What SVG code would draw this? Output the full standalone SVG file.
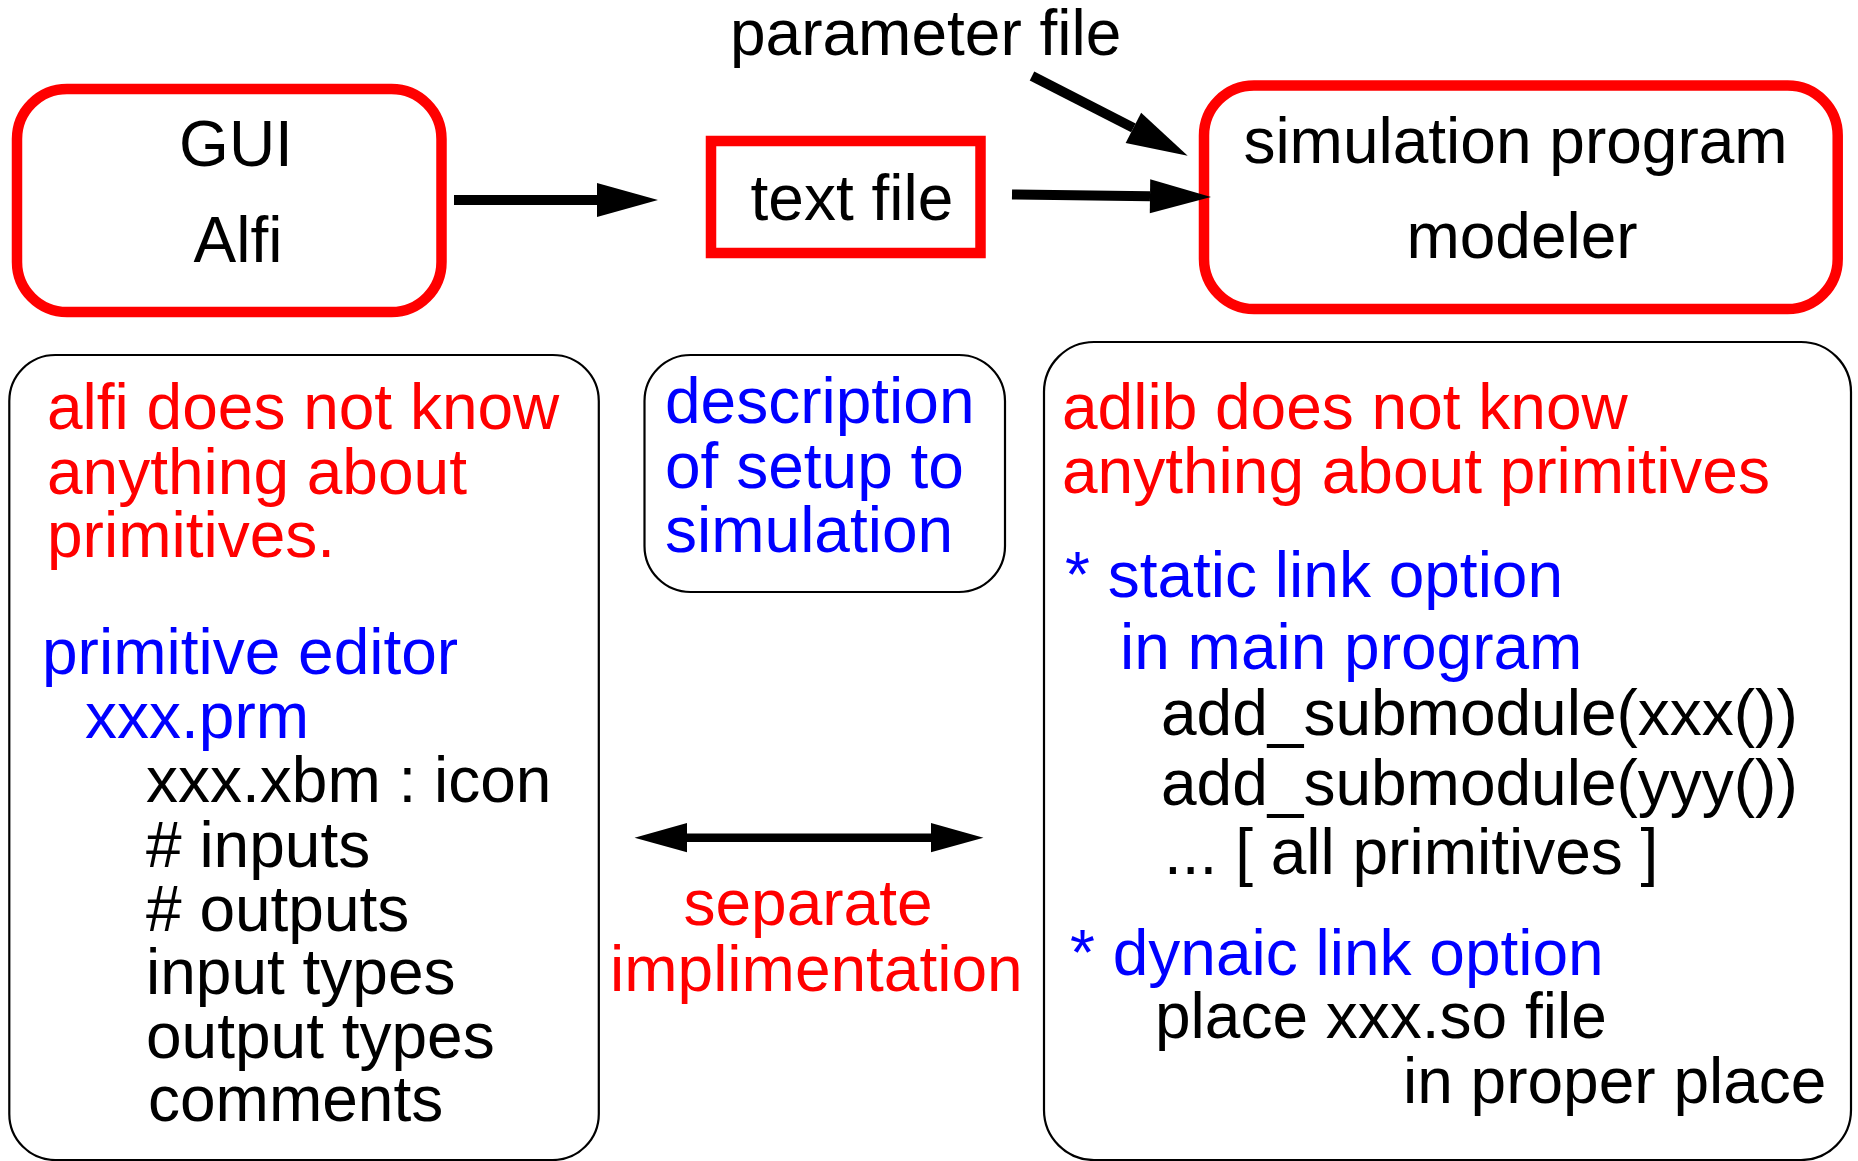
<svg xmlns="http://www.w3.org/2000/svg" width="1858" height="1161" viewBox="0 0 1858 1161">
  <defs>
    <style>
      text { font-family: "Liberation Sans", Arial, Helvetica, sans-serif; font-size: 64px; }
      .blk { fill: #000000; }
      .red { fill: #ff0000; }
      .blu { fill: #0000ff; }
      .mid { text-anchor: middle; }
      .redbox { fill: #ffffff; stroke: #ff0000; stroke-width: 10.5; }
      .note { fill: #ffffff; stroke: #000000; stroke-width: 2.2; }
      .conn { fill: none; stroke: #000000; stroke-linecap: butt; }
    </style>
    <!-- solid triangular head, base placed at the end of the shaft -->
    <marker id="head" markerUnits="strokeWidth" markerWidth="6.1" markerHeight="3.4"
            refX="0" refY="1.7" orient="auto-start-reverse" overflow="visible">
      <path d="M0,0 L6.1,1.7 L0,3.4 Z" fill="#000000"/>
    </marker>
  </defs>

  <rect width="1858" height="1161" fill="#ffffff"/>

  <!-- top row: tools and the file passed between them -->
  <g id="gui">
    <rect class="redbox" x="17" y="89" width="424.5" height="223" rx="50" ry="50"/>
    <text class="blk mid" x="236" y="166">GUI</text>
    <text class="blk mid" x="238" y="262">Alfi</text>
  </g>

  <g id="textfile">
    <rect class="redbox" x="711" y="141" width="269.5" height="112"/>
    <text class="blk" x="750.5" y="220">text file</text>
  </g>

  <g id="simulator">
    <rect class="redbox" x="1204" y="85.5" width="633.7" height="223.5" rx="50" ry="50"/>
    <text class="blk mid" x="1515.5" y="163">simulation program</text>
    <text class="blk mid" x="1522" y="258">modeler</text>
  </g>

  <g id="paramfile">
    <text class="blk" x="730" y="55">parameter file</text>
  </g>

  <!-- bottom row: notes on each side -->
  <g id="alfi-notes">
    <rect class="note" x="9.3" y="355" width="589.5" height="805" rx="46" ry="46"/>
    <text class="red" x="47" y="429">alfi does not know</text>
    <text class="red" x="47" y="493.5">anything about</text>
    <text class="red" x="47" y="557">primitives.</text>
    <text class="blu" x="42" y="674">primitive editor</text>
    <text class="blu" x="85" y="738">xxx.prm</text>
    <text class="blk" x="146" y="802">xxx.xbm : icon</text>
    <text class="blk" x="146" y="866.5">#  inputs</text>
    <text class="blk" x="146" y="930.5">#  outputs</text>
    <text class="blk" x="146" y="994">input types</text>
    <text class="blk" x="146" y="1057.5">output types</text>
    <text class="blk" x="148" y="1120.5">comments</text>
  </g>

  <g id="description">
    <rect class="note" x="644.5" y="355" width="360.5" height="237" rx="46" ry="46"/>
    <text class="blu" x="665" y="423">description</text>
    <text class="blu" x="665" y="487.5">of setup to</text>
    <text class="blu" x="665" y="551.5">simulation</text>
  </g>

  <g id="adlib-notes">
    <rect class="note" x="1044" y="342" width="807" height="818" rx="50" ry="50"/>
    <text class="red" x="1062" y="429">adlib does not know</text>
    <text class="red" x="1062" y="493">anything about primitives</text>
    <text class="blu" x="1065" y="596.5">* static link option</text>
    <text class="blu" x="1120" y="669">in main program</text>
    <text class="blk" x="1161" y="735">add_submodule(xxx())</text>
    <text class="blk" x="1161" y="804.5">add_submodule(yyy())</text>
    <text class="blk" x="1164" y="874">... [ all primitives ]</text>
    <text class="blu" x="1070" y="975">* dynaic link option</text>
    <text class="blk" x="1155" y="1038">place xxx.so file</text>
    <text class="blk" x="1403" y="1102.5">in proper place</text>
  </g>

  <g id="separation-label">
    <text class="red" x="683.5" y="925">separate</text>
    <text class="red" x="610" y="991">implimentation</text>
  </g>

  <!-- connectors -->
  <g id="connectors">
    <line class="conn" x1="454" y1="200" x2="597" y2="200" stroke-width="10" marker-end="url(#head)"/>
    <line class="conn" x1="1012" y1="194.5" x2="1150" y2="196.2" stroke-width="10" marker-end="url(#head)"/>
    <line class="conn" x1="1032" y1="76" x2="1133.4" y2="127.9" stroke-width="10" marker-end="url(#head)"/>
    <line class="conn" x1="687" y1="837.7" x2="931" y2="837.7" stroke-width="8.6" marker-start="url(#head)" marker-end="url(#head)"/>
  </g>
</svg>
